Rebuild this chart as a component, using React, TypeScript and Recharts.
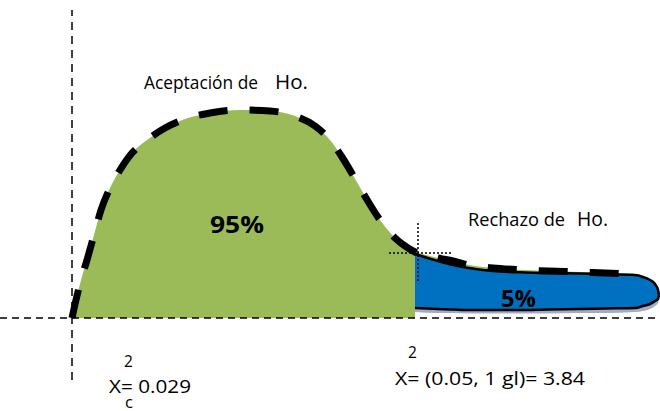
import { ComposedChart, Area, Line, XAxis, YAxis, ReferenceLine } from 'recharts';

// distances measured from the origin: x to the right, y up from the baseline
const curveX = [0, 4, 9, 15, 22, 29, 38, 48, 60, 75, 93, 113, 138, 168, 198, 223, 243, 258, 270, 282, 294, 308, 323, 336, 343, 366, 381, 397, 421, 453, 476, 508, 533, 563];
const curveY = [0, 18, 38, 58, 83, 108, 130, 148, 165, 178, 190, 199, 205, 208, 207, 202, 192, 178, 161, 141, 120, 98, 80, 70, 66, 60, 57, 53, 50, 48, 47, 46, 45, 44];

// critical value position (chi2 = 3.84)
const criticalX = 343;

// rejection tail (5%)
const tailX = [343, 366, 381, 397, 421, 453, 476, 508, 533, 563, 571, 578, 583, 586, 587];
const tailTop = [64, 57, 53, 50, 47, 45.5, 45, 44.5, 44, 43, 41, 38, 34, 28, 23];
const tailBottom = [10, 9, 8.5, 8, 8, 8, 8.5, 9, 9.5, 10, 12, 14, 17, 19, 23];
const shadowLow = [6, 5, 5, 4.5, 4.5, 4.5, 4.5, 5, 5, 6, 7, 9, 12, 15, 19];

const acceptData = curveX
  .map((x, i) => ({ x, y: curveY[i] }))
  .filter((d) => d.x <= criticalX);

const curveData = curveX.map((x, i) => ({ x, y: curveY[i] }));

const sliverData = curveX
  .map((x, i) => ({ x, y: curveY[i] }))
  .filter((d) => d.x >= criticalX)
  .map((d) => {
    const j = tailX.indexOf(d.x);
    return { x: d.x, range: [tailTop[j], d.y] };
  });

const tailData = tailX.map((x, i) => ({ x, range: [tailBottom[i], tailTop[i]] }));
const shadowData = tailX.map((x, i) => ({ x, range: [shadowLow[i], tailBottom[i]] }));

const font = '"Open Sans", sans-serif';

export default function App() {
  return (
    <div style={{ position: 'absolute', left: 0, top: 0, width: 660, height: 411, background: '#fff' }}>
      <ComposedChart width={660} height={411} margin={{ top: 0, right: 0, bottom: 0, left: 0 }}>
        <XAxis type="number" dataKey="x" domain={[-72, 588]} hide allowDataOverflow />
        <YAxis type="number" domain={[-93, 318]} hide allowDataOverflow />
        <Area data={acceptData} dataKey="y" type="monotone" fill="#9BBB59" fillOpacity={1} stroke="none" dot={false} activeDot={false} isAnimationActive={false} />
        <Area data={sliverData} dataKey="range" type="monotone" fill="#9BBB59" fillOpacity={1} stroke="none" dot={false} activeDot={false} isAnimationActive={false} />
        <Area data={shadowData} dataKey="range" type="monotone" fill="#A3ADBD" fillOpacity={1} stroke="none" dot={false} activeDot={false} isAnimationActive={false} />
        <Area data={tailData} dataKey="range" type="monotone" fill="#0070C0" fillOpacity={1} stroke="#000" strokeWidth={2.5} dot={false} activeDot={false} isAnimationActive={false} />
        <ReferenceLine y={0} stroke="#000" strokeWidth={1.5} strokeDasharray="7 5" />
        <ReferenceLine segment={[{ x: 0, y: -62 }, { x: 0, y: 308 }]} stroke="#000" strokeWidth={1.5} strokeDasharray="8 6" />
        <ReferenceLine segment={[{ x: 346, y: 95 }, { x: 346, y: 35 }]} stroke="#000" strokeWidth={1.5} strokeDasharray="2 2" />
        <ReferenceLine segment={[{ x: 317, y: 65 }, { x: 380, y: 65 }]} stroke="#000" strokeWidth={1.5} strokeDasharray="2 2" />
        <Line data={curveData} dataKey="y" type="monotone" stroke="#000" strokeWidth={7} strokeDasharray="29 22" dot={false} activeDot={false} isAnimationActive={false} />
      </ComposedChart>
      <svg width={660} height={411} style={{ position: 'absolute', left: 0, top: 0, pointerEvents: 'none' }} fontFamily={font}>
        <text x={144} y={89} fontSize={17.5} textLength={114} lengthAdjust="spacingAndGlyphs">Aceptación de</text>
        <text x={275} y={89} fontSize={19.5} textLength={33} lengthAdjust="spacingAndGlyphs">Ho.</text>
        <text x={210} y={233} fontSize={23} fontWeight="bold" textLength={54} lengthAdjust="spacingAndGlyphs">95%</text>
        <text x={468} y={226} fontSize={17.5} textLength={97} lengthAdjust="spacingAndGlyphs">Rechazo de</text>
        <text x={577} y={226} fontSize={19.5} textLength={31} lengthAdjust="spacingAndGlyphs">Ho.</text>
        <text x={501} y={307} fontSize={23.5} fontWeight="bold" textLength={35} lengthAdjust="spacingAndGlyphs">5%</text>
        <text x={124} y={367} fontSize={15.5}>2</text>
        <text x={109} y={393} fontSize={18.5} textLength={82} lengthAdjust="spacingAndGlyphs">X= 0.029</text>
        <text x={125} y={408} fontSize={16.5}>c</text>
        <text x={408} y={358} fontSize={15.5}>2</text>
        <text x={395} y={385} fontSize={18.5} textLength={190} lengthAdjust="spacingAndGlyphs">X= (0.05, 1 gl)= 3.84</text>
      </svg>
    </div>
  );
}
